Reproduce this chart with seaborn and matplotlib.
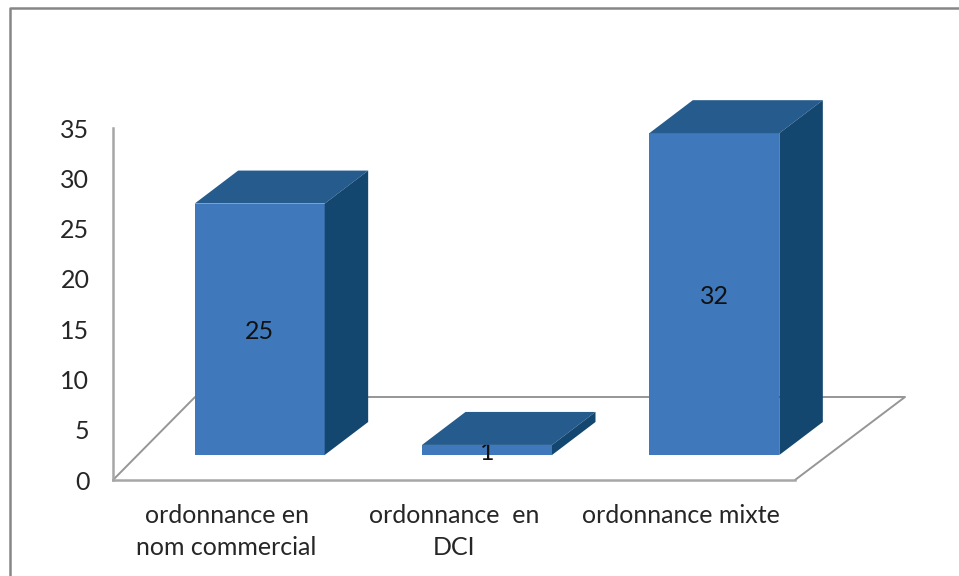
import matplotlib
matplotlib.use("Agg")
import matplotlib.pyplot as plt
import pandas as pd
import seaborn as sns
from matplotlib.patches import Polygon
from matplotlib.lines import Line2D
from matplotlib.transforms import Affine2D

categories = ["ordonnance en\nnom commercial", "ordonnance  en\nDCI", "ordonnance mixte"]
values = [25, 1, 32]
y_ticks = [0, 5, 10, 15, 20, 25, 30, 35]

FRONT = "#3f79bc"
TOP = "#265b8e"
SIDE = "#14476f"
GREY = "#a6a6a6"
TEXT = "#262626"

W, H = 959, 576
sns.set_theme(style="white")
plt.rcParams["font.family"] = ["Lato", "DejaVu Sans"]

fig = plt.figure(figsize=(W / 100, H / 100), dpi=100, facecolor="white")
ax = fig.add_axes([113 / W, 1 - 480 / H, (795 - 113) / W, (480 - 128) / H])
ax.patch.set_alpha(0)

df = pd.DataFrame({"cat": categories, "val": values})
sns.barplot(data=df, x="cat", y="val", color=FRONT, saturation=1, width=130 / 227.33,
            linewidth=0, ax=ax, zorder=3)
ax.set_xlim(-0.5, 2.5)
ax.set_ylim(0, 35)
ax.set_xlabel("")
ax.set_ylabel("")
ax.set_yticks(y_ticks)
ax.tick_params(axis="both", length=0, labelsize=18, labelcolor=TEXT)
ax.tick_params(axis="x", pad=17)
ax.tick_params(axis="y", pad=17)
for lbl in ax.get_xticklabels():
    lbl.set_linespacing(1.5)
for s in ["top", "right"]:
    ax.spines[s].set_visible(False)
for s in ["left", "bottom"]:
    ax.spines[s].set_color(GREY)
    ax.spines[s].set_linewidth(1.8)

# 3-D illusion: floor of the plot and bar offset, in display pixels
(x0, y0), (x1, _) = ax.transData.transform([(-0.5, 0), (2.5, 0)])
fig.add_artist(Line2D([x0, x0 + 82, x1 + 110, x1], [y0, y0 + 83, y0 + 83, y0],
                      transform=None, color="#969696", lw=1.4, zorder=-1))

OFF_X, OFF_Y = 33, 25
DEPTH_X, DEPTH_Y = 43.5, 33
shift = Affine2D().translate(OFF_X, OFF_Y)
label_shift = Affine2D().translate(OFF_X, OFF_Y - 2.5)
for patch, val in zip(ax.patches, values):
    patch.set_transform(ax.transData + shift)
    patch.set_clip_on(False)
    bb = patch.get_bbox()
    (xa, ya), (xb, yb) = ax.transData.transform([(bb.x0, bb.y0), (bb.x1, bb.y1)])
    xa, xb, ya, yb = xa + OFF_X, xb + OFF_X, ya + OFF_Y, yb + OFF_Y
    fig.add_artist(Polygon([(xa, yb), (xb, yb), (xb + DEPTH_X, yb + DEPTH_Y), (xa + DEPTH_X, yb + DEPTH_Y)],
                           closed=True, transform=None, fc=TOP, ec="none", zorder=2))
    fig.add_artist(Polygon([(xb, ya), (xb + DEPTH_X, ya + DEPTH_Y), (xb + DEPTH_X, yb + DEPTH_Y), (xb, yb)],
                           closed=True, transform=None, fc=SIDE, ec="none", zorder=2))
    ax.text(bb.x0 + bb.width / 2, val / 2, str(val), transform=ax.transData + label_shift,
            ha="center", va="center", fontsize=18, color="#111111", zorder=6, clip_on=False)

# outer chart frame: cut off at right and bottom
fig.add_artist(Line2D([10 / W, 10 / W, 1], [0, 1 - 8 / H, 1 - 8 / H],
                      transform=fig.transFigure, color="#868686", lw=1.8))

fig.savefig("out.png", dpi=100, facecolor="white")
